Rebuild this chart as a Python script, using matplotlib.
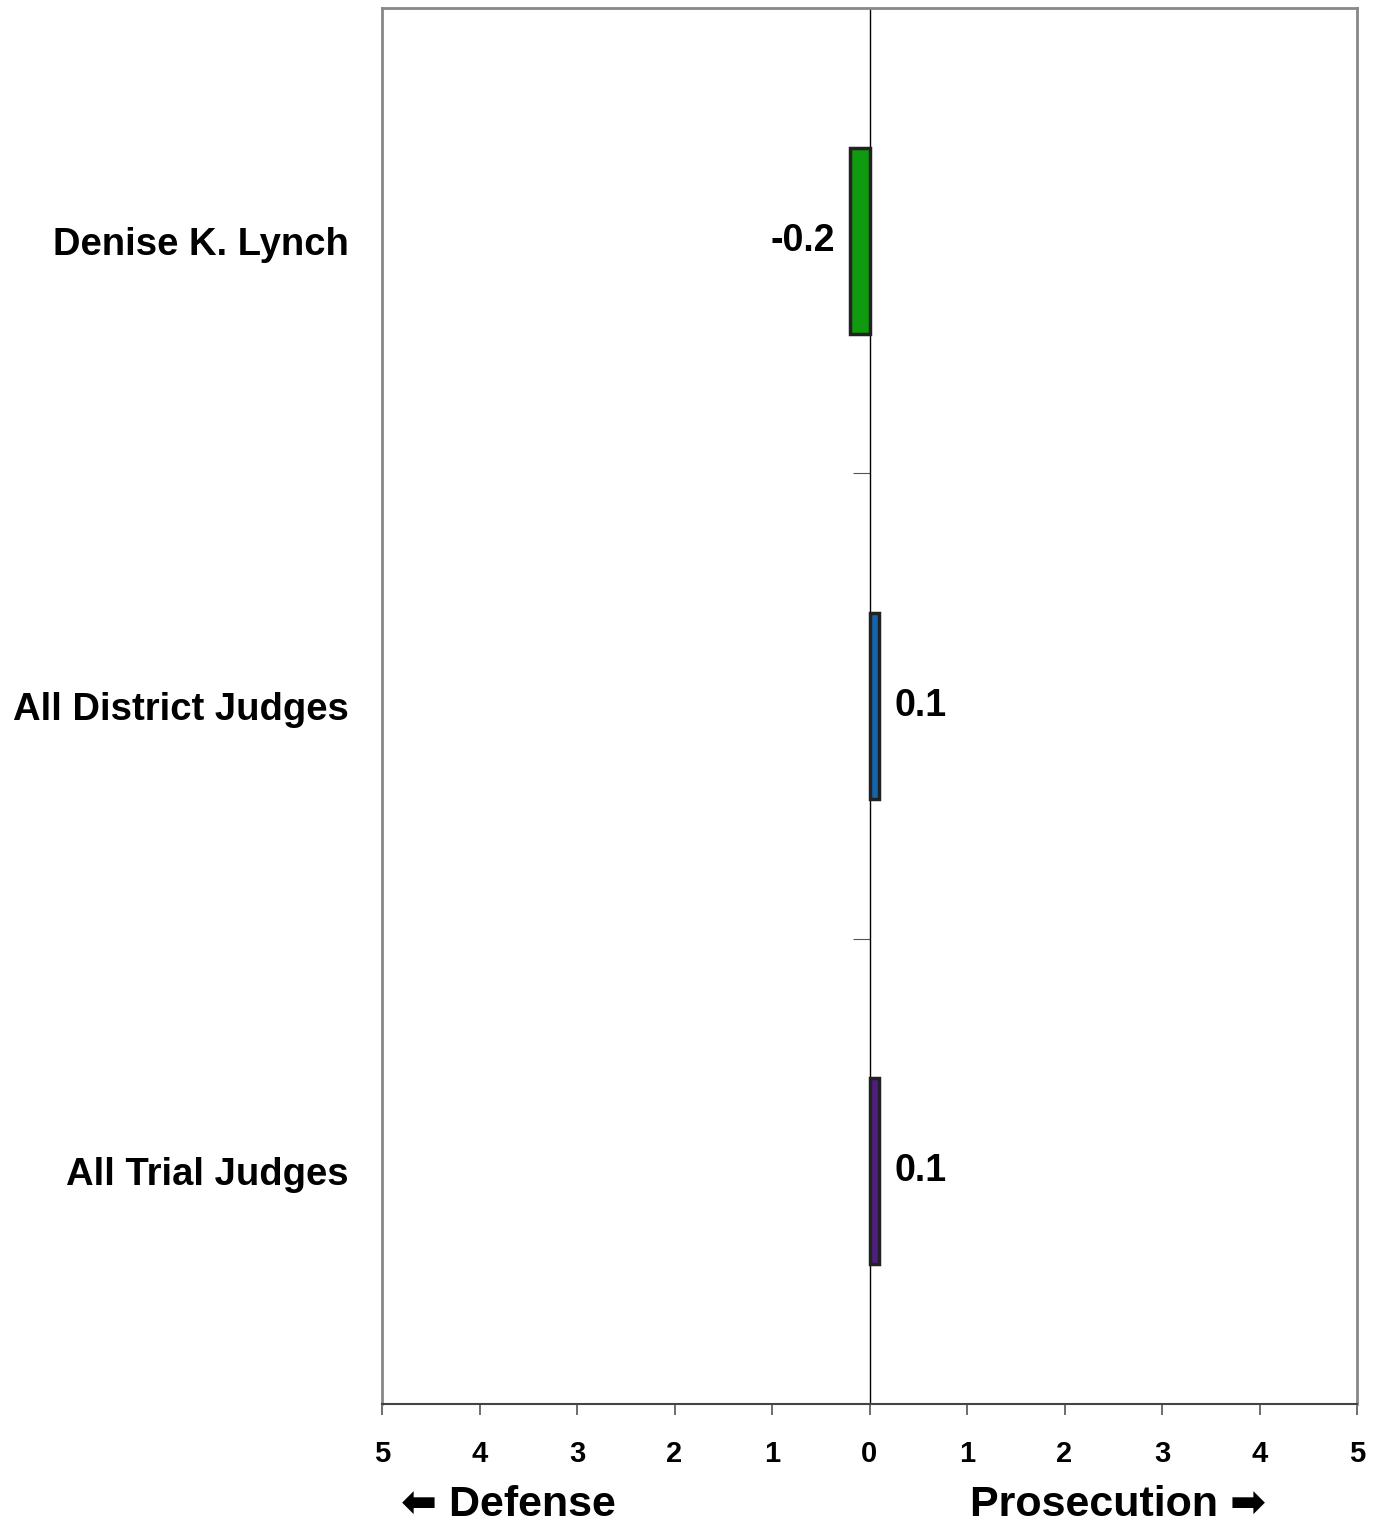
import matplotlib.pyplot as plt

judges = ["Denise K. Lynch", "All District Judges", "All Trial Judges"]
scores = [-0.2, 0.1, 0.1]
bar_colors = ["#0f9a0f", "#1565ad", "#4e1f80"]
x_ticks = [-5, -4, -3, -2, -1, 0, 1, 2, 3, 4, 5]
x_tick_labels = ["5", "4", "3", "2", "1", "0", "1", "2", "3", "4", "5"]

plt.rcParams["font.family"] = ["Liberation Sans", "DejaVu Sans"]
plt.rcParams["font.weight"] = "bold"

fig = plt.figure(figsize=(13.75, 15.24), dpi=100)
ax = fig.add_axes([382 / 1375, 1 - 1404 / 1524, 975 / 1375, 1396 / 1524])

ypos = list(range(len(judges)))
ax.barh(ypos, scores, height=0.4, color=bar_colors, edgecolor="#222222", linewidth=2.5, zorder=3)

for y, v in zip(ypos, scores):
    off = -11 if v < 0 else 11
    ax.annotate(f"{v:.1f}", xy=(v, y), xytext=(off, 0), textcoords="offset points",
                ha="right" if v < 0 else "left", va="center", fontsize=27, fontweight="bold")

ax.set_xlim(-5, 5)
ax.set_ylim(len(judges) - 0.5, -0.5)
ax.set_xticks(x_ticks)
ax.set_xticklabels(x_tick_labels, fontsize=21, fontweight="bold")
ax.tick_params(axis="x", direction="out", length=8, width=1.2, color="#555555", pad=18)

ax.set_yticks(ypos)
ax.set_yticklabels(judges, fontsize=27.5, fontweight="bold")
ax.tick_params(axis="y", length=0, pad=24)

for side in ["top", "right", "left"]:
    ax.spines[side].set_color("#888888")
    ax.spines[side].set_linewidth(2)
ax.spines["bottom"].set_color("#444444")
ax.spines["bottom"].set_linewidth(1.5)

# category axis crossing at zero
zero_axis = ax.secondary_yaxis(0.5)
zero_axis.spines["left"].set_color("black")
zero_axis.spines["left"].set_linewidth(1)
zero_axis.spines["right"].set_color("black")
zero_axis.spines["right"].set_linewidth(1)
zero_axis.set_yticks([0.5, 1.5])
zero_axis.set_yticklabels([])
zero_axis.tick_params(axis="y", direction="in", length=12, width=0.8, color="#555555")

ax.text(0.02, -0.072, "\u2b05 Defense", transform=ax.transAxes, fontsize=31, fontweight="bold",
        ha="left", va="center")
ax.text(0.603, -0.072, "Prosecution \u27a1", transform=ax.transAxes, fontsize=31, fontweight="bold",
        ha="left", va="center")

fig.savefig("out.png", dpi=100)
